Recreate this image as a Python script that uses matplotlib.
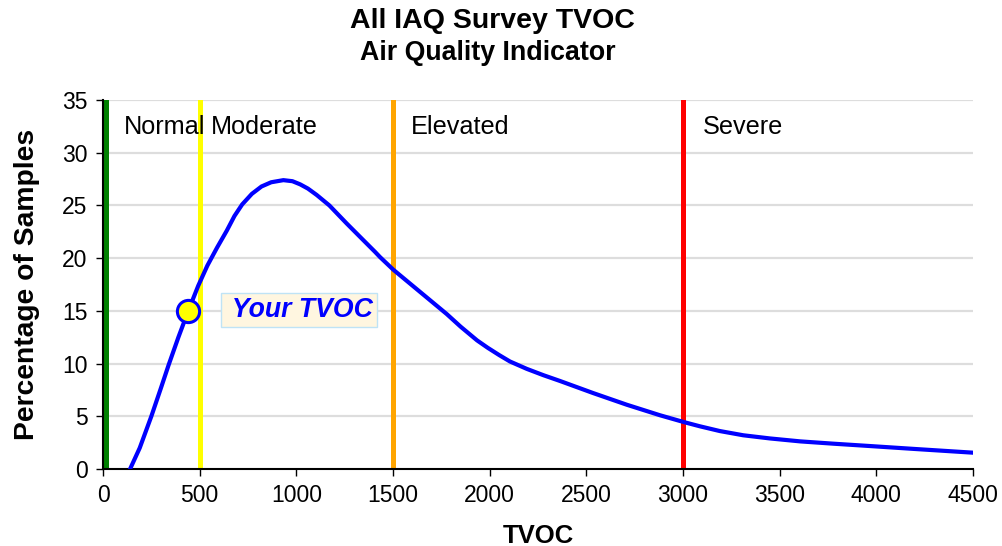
import numpy as np
import matplotlib.pyplot as plt

plt.rcParams['font.family'] = ['Liberation Sans', 'DejaVu Sans']

# distribution curve
tvoc = [140, 190, 250, 300, 340, 390, 441, 493, 540, 590, 640, 680, 720, 770,
        820, 870, 933, 980, 1020, 1060, 1105, 1171, 1260, 1347, 1407, 1433,
        1502, 1640, 1778, 1850, 1935, 1990, 2050, 2105, 2192, 2278, 2364, 2536,
        2709, 2881, 3005, 3088, 3191, 3312, 3450, 3607, 3780, 3950, 4200, 4500]
pct = [0, 2.0, 5.0, 7.7, 9.9, 12.5, 15.0, 17.4, 19.3, 21.0, 22.6, 24.0, 25.1,
       26.1, 26.8, 27.2, 27.4, 27.3, 27.0, 26.6, 26.0, 25.0, 23.3, 21.7, 20.6,
       20.1, 18.9, 16.8, 14.7, 13.5, 12.2, 11.5, 10.8, 10.2, 9.5, 8.9, 8.35,
       7.2, 6.1, 5.1, 4.45, 4.05, 3.6, 3.2, 2.9, 2.62, 2.4, 2.2, 1.9, 1.55]

# thresholds
band_x = [15, 500, 1500, 3000]
band_colors = ['#008000', '#FFFF00', '#FFA500', '#FF0000']
label_x = [109, 558, 1593, 3104]
label_text = ['Normal', 'Moderate', 'Elevated', 'Severe']

your_tvoc = 441
your_pct = 15

fig = plt.figure(figsize=(10.02, 5.46), dpi=100)
ax = fig.add_axes([0.1028, 0.141, 0.971 - 0.1028, 0.8168 - 0.141])

for y in range(5, 40, 5):
    ax.axhline(y, color='#DDDDDD', lw=1.6, zorder=0)

for bx, c in zip(band_x, band_colors):
    ax.axvline(bx, color=c, lw=3.6, zorder=1)

for lx, t in zip(label_x, label_text):
    ax.text(lx, 32.4, t, fontsize=18.2, va='center', ha='left', zorder=2)

ax.plot(tvoc, pct, color='#0000FF', lw=3, zorder=3, solid_joinstyle='round')
ax.plot([your_tvoc], [your_pct], 'o', ms=16, mfc='#FFFF00', mec='#0000FF',
        mew=2.2, zorder=4)
ax.text(630, 15.1, ' Your TVOC', fontsize=19.2, fontweight='bold', style='italic',
        color='#0000FF', va='center', ha='left', zorder=5,
        bbox=dict(boxstyle='square,pad=0.15', fc='#FFF6E0', ec='#BFE3F5', lw=1))

ax.set_xlim(0, 4500)
ax.set_ylim(0, 35)
ax.set_xticks(np.arange(0, 4501, 500))
ax.set_yticks(np.arange(0, 36, 5))
ax.tick_params(labelsize=16.5, length=5, width=1, pad=6)
for s in ['top', 'right']:
    ax.spines[s].set_visible(False)
ax.spines['left'].set_linewidth(1.5)
ax.spines['bottom'].set_linewidth(1.5)

ax.set_xlabel('TVOC', fontsize=18.5, fontweight='bold', labelpad=12)
ax.set_ylabel('Percentage of Samples', fontsize=20.3, fontweight='bold', labelpad=16)

fig.text(0.4915, 1 - 21 / 546, 'All IAQ Survey TVOC', fontsize=20.5,
         fontweight='bold', ha='center', va='center')
fig.text(0.4865, 1 - 53 / 546, 'Air Quality Indicator', fontsize=19.3,
         fontweight='bold', ha='center', va='center')

fig.savefig('out.png', dpi=100)
